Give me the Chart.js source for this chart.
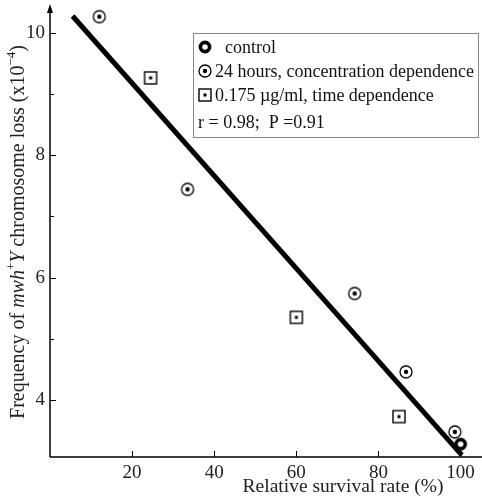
<!DOCTYPE html>
<html>
<head>
<meta charset="utf-8">
<script src="https://cdn.jsdelivr.net/npm/chart.js@4"></script>
<style>
  html, body { margin: 0; padding: 0; background: #fff; }
  #wrap { width: 482px; height: 500px; }
</style>
</head>
<body>
<div id="wrap"><canvas id="chart" width="482" height="500"></canvas></div>
<script>
// data
const controlX = [100];
const controlY = [3.28];
const concX = [12, 33.5, 74.2, 86.7, 98.6];
const concY = [10.26, 7.44, 5.74, 4.46, 3.48];
const timeX = [24.5, 60, 85];
const timeY = [9.26, 5.35, 3.73];
const fitX = [5.5, 100.3];
const fitY = [10.27, 3.1];
const xTicks = [20, 40, 60, 80, 100];
const yTicks = [4, 6, 8, 10];
const yMinorTicks = [5, 7, 9];
const legendLabels = ['control', '24 hours, concentration dependence', '0.175 \u00b5g/ml, time dependence'];
const statsText = 'r = 0.98;  P =0.91';

const FONT = '"Liberation Serif", "Times New Roman", serif';

function toPoints(xs, ys) {
    return xs.map((x, i) => ({ x: x, y: ys[i] }));
}

// marker images
function makeMarker(kind) {
    const c = document.createElement('canvas');
    c.width = 16; c.height = 16;
    const g = c.getContext('2d');
    g.strokeStyle = '#000';
    g.fillStyle = '#000';
    if (kind === 'control') {
        g.lineWidth = 3.6;
        g.beginPath(); g.arc(8, 8, 4.6, 0, Math.PI * 2); g.stroke();
    } else if (kind === 'circle') {
        g.lineWidth = 1.3;
        g.beginPath(); g.arc(8, 8, 6, 0, Math.PI * 2); g.stroke();
        g.beginPath(); g.arc(8, 8, 2.2, 0, Math.PI * 2); g.fill();
    } else {
        g.lineWidth = 1.4;
        g.strokeRect(2, 2, 12, 12);
        g.fillRect(6.5, 6.5, 3, 3);
    }
    return c;
}
const markers = {
    control: makeMarker('control'),
    circle: makeMarker('circle'),
    square: makeMarker('square')
};

// drop the extra padding chart.js reserves for overhanging tick labels
function noPad(s) {
    s.paddingLeft = 0; s.paddingRight = 0; s.paddingTop = 0; s.paddingBottom = 0;
}

// axes, inside ticks, titles and the boxed legend
const decorPlugin = {
    id: 'decor',
    afterDraw(chart) {
        const ctx = chart.ctx;
        const a = chart.chartArea;
        const xs = chart.scales.x;
        const ys = chart.scales.y;
        ctx.save();
        ctx.strokeStyle = '#000';
        ctx.fillStyle = '#000';
        ctx.lineWidth = 1.5;
        // axis lines
        ctx.beginPath();
        ctx.moveTo(a.left, a.bottom);
        ctx.lineTo(a.left, a.top + 2);
        ctx.moveTo(a.left, a.bottom);
        ctx.lineTo(482, a.bottom);
        ctx.stroke();
        // arrow on y axis
        ctx.beginPath();
        ctx.moveTo(a.left, a.top - 1);
        ctx.lineTo(a.left - 3, a.top + 8);
        ctx.lineTo(a.left + 3, a.top + 8);
        ctx.closePath();
        ctx.fill();
        // ticks pointing inward
        ctx.lineWidth = 1;
        ctx.beginPath();
        xTicks.forEach(v => {
            const px = Math.round(xs.getPixelForValue(v)) + 0.5;
            ctx.moveTo(px, a.bottom);
            ctx.lineTo(px, a.bottom - 6);
        });
        yTicks.forEach(v => {
            const py = Math.round(ys.getPixelForValue(v)) + 0.5;
            ctx.moveTo(a.left, py);
            ctx.lineTo(a.left + 6, py);
        });
        yMinorTicks.forEach(v => {
            const py = Math.round(ys.getPixelForValue(v)) + 0.5;
            ctx.moveTo(a.left, py);
            ctx.lineTo(a.left + 4, py);
        });
        ctx.stroke();

        // x title
        ctx.font = '19.5px ' + FONT;
        ctx.textAlign = 'center';
        ctx.textBaseline = 'middle';
        ctx.fillStyle = '#222';
        ctx.fillText('Relative survival rate (%)', 343, 487);

        // y title with italics and superscripts
        const parts = [
            { t: 'Frequency of ', f: '20px ' + FONT, dy: 0 },
            { t: 'mwh', f: 'italic 20px ' + FONT, dy: 0 },
            { t: '+', f: '13px ' + FONT, dy: -7 },
            { t: 'Y', f: 'italic 20px ' + FONT, dy: 0 },
            { t: ' chromosome loss (x10', f: '20px ' + FONT, dy: 0 },
            { t: '\u22124', f: '13px ' + FONT, dy: -7 },
            { t: ')', f: '20px ' + FONT, dy: 0 }
        ];
        let total = 0;
        parts.forEach(p => { ctx.font = p.f; p.w = ctx.measureText(p.t).width; total += p.w; });
        ctx.translate(19, 232);
        ctx.rotate(-Math.PI / 2);
        ctx.textAlign = 'left';
        let cx = -total / 2;
        parts.forEach(p => {
            ctx.font = p.f;
            ctx.fillText(p.t, cx, p.dy);
            cx += p.w;
        });
        ctx.setTransform(1, 0, 0, 1, 0, 0);

        // legend box
        ctx.fillStyle = '#fff';
        ctx.fillRect(193, 33, 285, 104);
        ctx.strokeStyle = '#888';
        ctx.lineWidth = 1;
        ctx.strokeRect(193.5, 33.5, 285, 104);
        const rowY = [47, 71, 95];
        const icons = [markers.control, markers.circle, markers.square];
        ctx.font = '18px ' + FONT;
        ctx.textAlign = 'left';
        ctx.textBaseline = 'middle';
        ctx.fillStyle = '#111';
        legendLabels.forEach((lab, i) => {
            ctx.drawImage(icons[i], 205 - 8, rowY[i] - 8);
            ctx.fillText(lab, i === 0 ? 225 : 215, rowY[i] + 1);
        });
        ctx.fillText(statsText, 198, 123);
        ctx.restore();
    }
};

const ctx = document.getElementById('chart').getContext('2d');
new Chart(ctx, {
    type: 'scatter',
    data: {
        datasets: [{
            label: 'fit',
            type: 'line',
            data: toPoints(fitX, fitY),
            borderColor: '#000',
            borderWidth: 5,
            pointRadius: 0,
            fill: false
        }, {
            label: legendLabels[0],
            data: toPoints(controlX, controlY),
            pointStyle: markers.control
        }, {
            label: legendLabels[1],
            data: toPoints(concX, concY),
            pointStyle: markers.circle
        }, {
            label: legendLabels[2],
            data: toPoints(timeX, timeY),
            pointStyle: markers.square
        }]
    },
    options: {
        responsive: false,
        animation: false,
        layout: { padding: { top: 5, right: 1, left: 0, bottom: 0 } },
        plugins: {
            legend: { display: false },
            tooltip: { enabled: false }
        },
        scales: {
            x: {
                type: 'linear',
                min: 0,
                max: 104,
                grid: { display: false, drawTicks: false },
                border: { display: false },
                afterFit: s => { s.height = 43; noPad(s); },
                afterBuildTicks: s => { s.ticks = xTicks.map(v => ({ value: v })); },
                ticks: {
                    padding: 5,
                    color: '#222',
                    font: { family: FONT, size: 19 }
                }
            },
            y: {
                type: 'linear',
                min: 3.07,
                max: 10.45,
                grid: { display: false, drawTicks: false },
                border: { display: false },
                afterFit: s => { s.width = 50; noPad(s); },
                afterBuildTicks: s => { s.ticks = yTicks.map(v => ({ value: v })); },
                ticks: {
                    padding: 5,
                    color: '#222',
                    font: { family: FONT, size: 19 }
                }
            }
        }
    },
    plugins: [decorPlugin]
});
</script>
</body>
</html>
